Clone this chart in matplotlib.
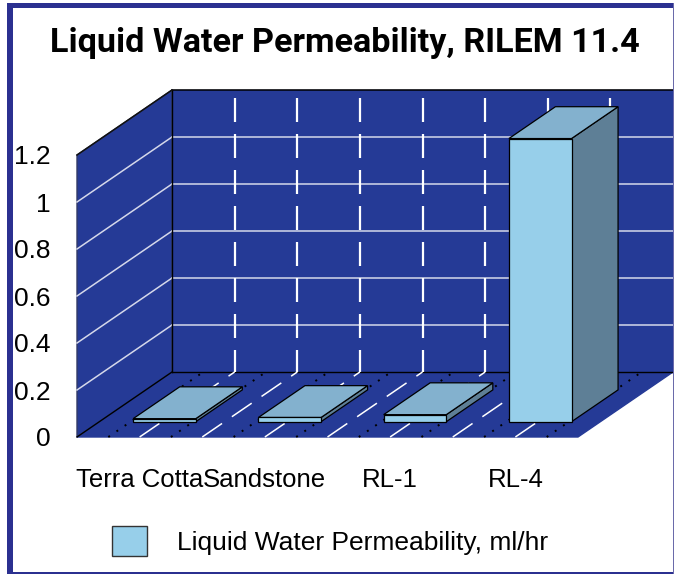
import matplotlib
matplotlib.use("Agg")
import matplotlib.pyplot as plt
from matplotlib.patches import Patch, Polygon, Rectangle

categories = ["Terra Cotta", "Sandstone", "RL-1", "RL-4"]
values = [0.013, 0.018, 0.03, 1.205]
y_ticks = [0, 0.2, 0.4, 0.6, 0.8, 1, 1.2]
y_labels = ["0", "0.2", "0.4", "0.6", "0.8", "1", "1.2"]
title = "Liquid Water Permeability, RILEM 11.4"
legend_label = "Liquid Water Permeability, ml/hr"

W, H = 674, 575
# pixel size of the 3d box
px_cat = 125.25
px_val = 235.0
px_dx = 95.0
px_dy = 65.0
left, bottom = 77, 437

DX = px_dx / px_cat
DZ = px_dy / px_val
n = len(categories)
top_val = y_ticks[-1]

NAVY = "#253A96"
FRAME = "#2B3090"
FRONT = "#97CFEA"
TOP = "#83B1CE"
SIDE = "#5E7F96"


def proj(x, d, v):
    # oblique projection, d = depth 0 (front) .. 1 (back)
    return x + d * DX, v + d * DZ


def face(ax, pts, color, ec="black", lw=1.0, z=1):
    ax.add_patch(Polygon([proj(*p) for p in pts], closed=True, fc=color, ec=ec,
                         lw=lw, zorder=z, clip_on=False, joinstyle="miter"))


def line3(ax, p0, p1, **kw):
    a, b = proj(*p0), proj(*p1)
    ax.plot([a[0], b[0]], [a[1], b[1]], clip_on=False, **kw)


def frame_bar(fig, x0, y0, x1, y1, color):
    # rectangle given in pixels from the top left corner
    fig.add_artist(Rectangle((x0 / W, 1 - y1 / H), (x1 - x0) / W, (y1 - y0) / H,
                             transform=fig.transFigure, fc=color, ec="none"))


plt.rcParams["font.family"] = ["Liberation Sans", "DejaVu Sans"]
fig = plt.figure(figsize=(W / 100, H / 100), dpi=100)

# outer frame, heavier on the top and left
frame_bar(fig, 7, 3, 13, 574, FRAME)
frame_bar(fig, 7, 3, 674, 8, FRAME)
frame_bar(fig, 7, 572, 674, 574, FRAME)
frame_bar(fig, 672.5, 3, 674, 574, "#6A6AAA")

xmax = n + DX
vmax = top_val + DZ
ax = fig.add_axes([left / W, 1 - bottom / H, xmax * px_cat / W, vmax * px_val / H])
ax.set_xlim(0, xmax)
ax.set_ylim(0, vmax)
ax.patch.set_visible(False)
for s in ax.spines.values():
    s.set_visible(False)

# walls and floor
face(ax, [(0, 1, 0), (n, 1, 0), (n, 1, top_val), (0, 1, top_val)], NAVY, ec=NAVY, z=1)
face(ax, [(0, 0, 0), (0, 1, 0), (0, 1, top_val), (0, 0, top_val)], NAVY, ec="#333a66", z=1)
face(ax, [(0, 0, 0), (n, 0, 0), (n, 1, 0), (0, 1, 0)], NAVY, ec=NAVY, z=1)

# value grid on the walls
for v in y_ticks[1:-1]:
    line3(ax, (0, 0, v), (0, 1, v), color="#D5D8EA", lw=1.1, zorder=2)
    line3(ax, (0, 1, v), (n, 1, v), color="#D5D8EA", lw=1.1, zorder=2)

line3(ax, (0, 1, 0), (n, 1, 0), color="black", lw=1, zorder=3)
line3(ax, (0, 0, 0), (0, 1, 0), color="black", lw=1, zorder=3)
line3(ax, (0, 1, 0), (0, 1, top_val), color="black", lw=1, zorder=3)
line3(ax, (0, 1, top_val), (n, 1, top_val), color="black", lw=1.1, zorder=3)
line3(ax, (0, 0, top_val), (0, 1, top_val), color="#111111", lw=1.1, zorder=3)

# dashed category lines, every half category
for k in range(1, 2 * n):
    x = k / 2
    line3(ax, (x, 1, top_val - 8 / px_val), (x, 1, 0), color="white", lw=1.6,
          ls=(0, (10.8, 5.4)), zorder=3)
    line3(ax, (x, 0, 0), (x, 1, 0), color="white", lw=1.1,
          ls=(0, (15.7, 7.8)), zorder=3)
for k in range(0, 2 * n):
    x = k / 2 + 0.25
    line3(ax, (x, 0, 0), (x, 1, 0), color="black", lw=1.4,
          ls=(0, (1, 4.1)), zorder=3)

# bars
for i, val in enumerate(values):
    x0, x1 = i + 0.27, i + 0.77
    d0, d1 = 0.235, 0.725
    face(ax, [(x1, d0, 0), (x1, d1, 0), (x1, d1, val), (x1, d0, val)], SIDE, lw=0.9, z=4)
    face(ax, [(x0, d0, val), (x1, d0, val), (x1, d1, val), (x0, d1, val)], TOP, lw=0.9, z=4)
    face(ax, [(x0, d0, 0), (x1, d0, 0), (x1, d0, val), (x0, d0, val)], FRONT, lw=0.9, z=4)

ax.set_yticks(y_ticks)
ax.set_yticklabels(y_labels, fontsize=19)
ax.set_xticks([i + 0.5 for i in range(n)])
ax.set_xticklabels(categories, fontsize=18.5)
ax.tick_params(axis="y", length=0, pad=19)
ax.tick_params(axis="x", length=0, pad=22)

fig.text(345 / W, 1 - 43 / H, title, ha="center", va="center", fontsize=24.6,
         fontweight="bold", family=["Roboto", "Liberation Sans"])

ax.legend(handles=[Patch(fc=FRONT, ec="#333333", lw=1, label=legend_label)],
          loc="center left", bbox_to_anchor=(112 / W, 1 - 541 / H),
          bbox_transform=fig.transFigure, frameon=False, fontsize=19,
          handlelength=1.33, handleheight=1.33, handletextpad=1.14, borderpad=0,
          borderaxespad=0)

fig.savefig("out.png", dpi=100)
